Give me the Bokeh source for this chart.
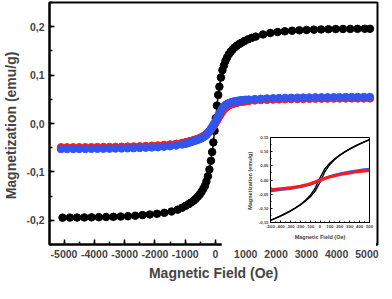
from bokeh.plotting import figure
from bokeh.models import Range1d, SingleIntervalTicker, CustomJSTickFormatter
from bokeh.layouts import column
from bokeh.embed import file_html
from bokeh.resources import INLINE

# ---------------- main data ----------------
black_h = [-5050, -4810, -4570, -4330, -4090, -3850, -3610, -3370, -3130, -2890,
           -2650, -2410, -2170, -1930, -1690, -1450, -1250, -1100, -980, -880,
           -800, -720, -650, -580, -520, -460, -400, -350, -300, -250,
           -200, -150, -110, -70, -30, 10, 50, 90, 130, 180,
           230, 280, 330, 380, 440, 500, 560, 620, 700, 780,
           860, 960, 1080, 1200, 1330, 1570, 1810, 2050, 2290, 2530,
           2770, 3010, 3250, 3490, 3730, 3970, 4210, 4450, 4690, 4930, 5100]
black_m = [-0.1945, -0.1944, -0.1943, -0.1941, -0.1939, -0.1936, -0.1932, -0.1928, -0.1922, -0.1915,
           -0.1905, -0.1893, -0.1880, -0.1865, -0.1845, -0.1818, -0.1780, -0.1740, -0.1700, -0.1665,
           -0.1630, -0.1595, -0.1555, -0.1510, -0.1465, -0.1410, -0.1350, -0.1290, -0.1200, -0.1090,
           -0.0950, -0.0770, -0.0590, -0.0390, -0.0150, 0.0110, 0.0370, 0.0590, 0.0760, 0.0950,
           0.1100, 0.1200, 0.1290, 0.1360, 0.1430, 0.1480, 0.1525, 0.1565, 0.1605, 0.1640,
           0.1670, 0.1705, 0.1740, 0.1770, 0.1795, 0.1840, 0.1870, 0.1890, 0.1905, 0.1917,
           0.1926, 0.1933, 0.1939, 0.1944, 0.1948, 0.1951, 0.1953, 0.1955, 0.1956, 0.1957, 0.1957]

rb_h = [-5100, -4900, -4700, -4500, -4300, -4100, -3900, -3700, -3500, -3300,
        -3100, -2900, -2700, -2500, -2300, -2100, -1900, -1700, -1500, -1300, -1100,
        -1000, -950, -900, -850, -800, -750, -700, -650, -600, -550,
        -500, -450, -400, -350, -300, -250, -200, -150, -100, -50,
        0, 50, 100, 150, 200, 250, 300, 350, 400, 450,
        500, 550, 600, 650, 700, 750, 800, 850, 900, 950, 1000,
        1100, 1300, 1500, 1700, 1900, 2100, 2300, 2500, 2700, 2900,
        3100, 3300, 3500, 3700, 3900, 4100, 4300, 4500, 4700, 4900, 5100]
blue_m = [-0.0528, -0.0528, -0.0527, -0.0526, -0.0525, -0.0524, -0.0523, -0.0522, -0.0520, -0.0518,
          -0.0516, -0.0513, -0.0510, -0.0505, -0.0500, -0.0495, -0.0490, -0.0480, -0.0470, -0.0455, -0.0435,
          -0.0420, -0.0412, -0.0400, -0.0390, -0.0380, -0.0370, -0.0360, -0.0350, -0.0340, -0.0328,
          -0.0315, -0.0300, -0.0283, -0.0262, -0.0236, -0.0200, -0.0156, -0.0108, -0.0060, -0.0010,
          0.0040, 0.0100, 0.0165, 0.0230, 0.0285, 0.0330, 0.0365, 0.0390, 0.0408, 0.0422,
          0.0434, 0.0444, 0.0452, 0.0459, 0.0465, 0.0470, 0.0475, 0.0479, 0.0483, 0.0487, 0.0490,
          0.0495, 0.0505, 0.0512, 0.0518, 0.0522, 0.0526, 0.0529, 0.0532, 0.0534, 0.0536,
          0.0538, 0.0540, 0.0541, 0.0542, 0.0543, 0.0544, 0.0545, 0.0546, 0.0547, 0.0548, 0.0548]
red_m = [-0.0492, -0.0492, -0.0491, -0.0490, -0.0490, -0.0489, -0.0488, -0.0486, -0.0485, -0.0483,
         -0.0480, -0.0477, -0.0474, -0.0470, -0.0465, -0.0459, -0.0452, -0.0443, -0.0432, -0.0418, -0.0400,
         -0.0390, -0.0383, -0.0376, -0.0368, -0.0360, -0.0351, -0.0342, -0.0332, -0.0321, -0.0309,
         -0.0296, -0.0281, -0.0264, -0.0244, -0.0221, -0.0193, -0.0160, -0.0122, -0.0080, -0.0035,
         0.0010, 0.0060, 0.0115, 0.0170, 0.0222, 0.0268, 0.0305, 0.0335, 0.0358, 0.0376,
         0.0391, 0.0403, 0.0413, 0.0422, 0.0430, 0.0437, 0.0443, 0.0448, 0.0453, 0.0457, 0.0461,
         0.0467, 0.0476, 0.0483, 0.0489, 0.0494, 0.0498, 0.0501, 0.0504, 0.0506, 0.0508,
         0.0510, 0.0512, 0.0513, 0.0514, 0.0515, 0.0516, 0.0517, 0.0518, 0.0518, 0.0519, 0.0519]

# ---------------- inset data ----------------
inset_h = [-500, -450, -400, -350, -300, -250, -200, -150, -100, -50,
           0, 50, 100, 150, 200, 250, 300, 350, 400, 450, 500]
inset_black_up = [-0.143, -0.136, -0.128, -0.120, -0.110, -0.100, -0.088, -0.073, -0.055, -0.030,
                  0.008, 0.040, 0.060, 0.075, 0.088, 0.099, 0.109, 0.118, 0.127, 0.135, 0.143]
inset_black_down = [-0.143, -0.135, -0.127, -0.118, -0.109, -0.099, -0.088, -0.075, -0.060, -0.040,
                    -0.008, 0.030, 0.055, 0.073, 0.088, 0.100, 0.110, 0.120, 0.128, 0.136, 0.143]
inset_blue = [-0.038, -0.036, -0.034, -0.032, -0.030, -0.027, -0.024, -0.020, -0.015, -0.009,
              -0.002, 0.006, 0.012, 0.017, 0.021, 0.025, 0.028, 0.031, 0.034, 0.036, 0.038]
inset_red = [-0.034, -0.033, -0.031, -0.029, -0.027, -0.025, -0.022, -0.018, -0.013, -0.007,
             0.000, 0.006, 0.011, 0.015, 0.019, 0.022, 0.025, 0.028, 0.030, 0.032, 0.034]

FONT = "Liberation Sans"
BLUE = "#3355ee"
RED = "#ff1a1a"

p = figure(width=384, height=283, output_backend="svg", toolbar_location=None,
           x_range=Range1d(-5480, 5350), y_range=Range1d(-0.25, 0.25),
           min_border_left=38, min_border_right=7, min_border_top=2, min_border_bottom=33)
p.outline_line_color = "black"
p.outline_line_width = 2
p.xgrid.visible = False
p.ygrid.visible = False
p.background_fill_color = "white"
p.border_fill_color = "white"

p.xaxis.ticker = SingleIntervalTicker(interval=1000, num_minor_ticks=2)
p.yaxis.ticker = SingleIntervalTicker(interval=0.1, num_minor_ticks=2)
p.xaxis.formatter = CustomJSTickFormatter(code="return tick.toFixed(0);")
p.yaxis.formatter = CustomJSTickFormatter(
    code="if (Math.abs(tick) < 1e-9) { return '0,0'; } return tick.toFixed(1).replace('.', ',');")
for ax in (p.xaxis[0], p.yaxis[0]):
    ax.axis_line_width = 2
    ax.major_tick_in = 5
    ax.major_tick_out = 0
    ax.minor_tick_in = 3
    ax.minor_tick_out = 0
    ax.major_tick_line_width = 1.5
    ax.minor_tick_line_width = 1.5
    ax.major_label_text_font = FONT
    ax.major_label_text_font_style = "bold"
    ax.major_label_text_font_size = "10.5px"
    ax.major_label_standoff = 5
    ax.axis_label_text_font = FONT
    ax.axis_label_text_font_style = "bold"
    ax.axis_label_text_font_size = "14px"
    ax.axis_label_standoff = 4
p.xaxis.axis_label = "Magnetic Field (Oe)"
p.yaxis.axis_label = "Magnetization  (emu/g)"

p.line(black_h, black_m, line_color="black", line_width=1.5)
p.scatter(black_h, black_m, size=7.5, fill_color="black", line_color="black")
p.scatter(rb_h, red_m, size=7.5, fill_color=RED, line_color=RED)
p.scatter(rb_h, blue_m, size=7.5, fill_color=BLUE, line_color=BLUE)

# ---------------- inset ----------------
ins = figure(width=155, height=112, output_backend="svg", toolbar_location=None,
             x_range=Range1d(-500, 500), y_range=Range1d(-0.1505, 0.1505),
             min_border_left=30, min_border_right=3, min_border_top=3, min_border_bottom=24)
ins.outline_line_color = "black"
ins.outline_line_width = 1
ins.xgrid.visible = False
ins.ygrid.visible = False
ins.xaxis.ticker = SingleIntervalTicker(interval=100, num_minor_ticks=2)
ins.yaxis.ticker = SingleIntervalTicker(interval=0.05, num_minor_ticks=2)
ins.xaxis.formatter = CustomJSTickFormatter(code="return tick.toFixed(0);")
ins.yaxis.formatter = CustomJSTickFormatter(
    code="if (Math.abs(tick) < 1e-9) { return '0,00'; } return tick.toFixed(2).replace('.', ',');")
for ax in (ins.xaxis[0], ins.yaxis[0]):
    ax.axis_line_width = 1
    ax.major_tick_in = 2
    ax.major_tick_out = 0
    ax.minor_tick_in = 1
    ax.minor_tick_out = 0
    ax.major_label_text_font = FONT
    ax.major_label_text_font_style = "bold"
    ax.major_label_text_font_size = "4.3px"
    ax.major_label_standoff = 2
    ax.axis_label_text_font = FONT
    ax.axis_label_text_font_style = "bold"
    ax.axis_label_text_font_size = "5.5px"
    ax.axis_label_standoff = 3
ins.xaxis.axis_label = "Magnetic Field (Oe)"
ins.yaxis.axis_label = "Magnetization  (emu/g)"

ins.line(inset_h, inset_black_up, line_color="black", line_width=1.4)
ins.line(inset_h, inset_black_down, line_color="black", line_width=1.4)
ins.line(inset_h, inset_blue, line_color=BLUE, line_width=3)
ins.line(inset_h, inset_red, line_color=RED, line_width=3)

ins.styles = {"position": "absolute", "left": "221px", "top": "134px"}

layout = column(p, ins, width=384, height=283)

open("out.html", "w").write(file_html(layout, INLINE))
